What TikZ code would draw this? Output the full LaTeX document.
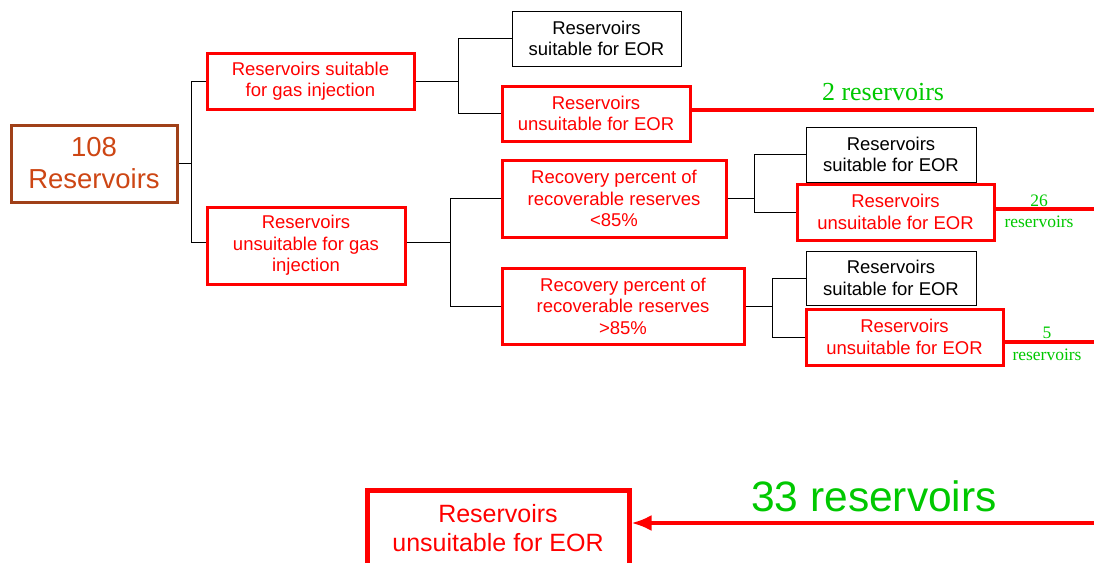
\documentclass[tikz,border=0pt]{standalone}
\usepackage{fontspec}
\setmainfont{Liberation Sans}
\newfontfamily\countfont{Liberation Serif}
\usetikzlibrary{arrows.meta}
\definecolor{myred}{RGB}{255,0,0}
\definecolor{mygreen}{RGB}{0,200,0}
\definecolor{mybrown}{RGB}{160,64,24}
\definecolor{myorange}{RGB}{205,70,20}

\begin{document}
\begin{tikzpicture}[x=1pt, y=-1pt,
  box/.style={align=center, inner sep=0pt, font=\fontsize{18.5}{21.5}\selectfont},
  redbox/.style={box, draw=myred, text=myred, line width=3pt},
  blackbox/.style={box, draw=black, line width=1pt},
  link/.style={black, line width=1pt},
  redlink/.style={myred, line width=3.5pt},
  count/.style={text=mygreen, inner sep=0pt, font=\countfont\fontsize{17.5}{17.5}\selectfont}]

\useasboundingbox (0,0) rectangle (1094,562);
\clip (0,0) rectangle (1094,562);
\coordinate (edge) at (1094,0);

% first split
\node[box, draw=mybrown, text=myorange, line width=3pt, minimum width=166pt, minimum height=77pt,
  font=\fontsize{27.5}{32}\selectfont] (all) at (94,163.5) {108\\Reservoirs};
\node[redbox, minimum width=207pt, minimum height=56pt] (gasok) at (310.5,81) {Reservoirs suitable\\for gas injection};
\node[redbox, minimum width=198pt, minimum height=77pt] (gasno) at (306,245.5) {Reservoirs\\unsuitable for gas\\injection};

% second split
\node[blackbox, minimum width=169pt, minimum height=55pt] (eorok1) at (596.5,38.5) {Reservoirs\\suitable for EOR};
\node[redbox, minimum width=188pt, minimum height=55pt] (eorno1) at (596,113.5) {Reservoirs\\unsuitable for EOR};
\node[redbox, minimum width=224pt, minimum height=77pt] (low) at (614,198.5) {Recovery percent of\\recoverable reserves\\<85\%};
\node[redbox, minimum width=242pt, minimum height=76pt] (high) at (623,306) {Recovery percent of\\recoverable reserves\\>85\%};

% third split
\node[blackbox, minimum width=170pt, minimum height=55pt] (eorok2) at (891,154.5) {Reservoirs\\suitable for EOR};
\node[redbox, minimum width=197pt, minimum height=56pt] (eorno2) at (895.5,212) {Reservoirs\\unsuitable for EOR};
\node[blackbox, minimum width=170pt, minimum height=54pt] (eorok3) at (891,278) {Reservoirs\\suitable for EOR};
\node[redbox, minimum width=197pt, minimum height=56pt] (eorno3) at (904.5,337) {Reservoirs\\unsuitable for EOR};

\node[redbox, line width=5pt, minimum width=262pt, minimum height=76pt,
  font=\fontsize{25}{28.5}\selectfont] (final) at (498,528) {Reservoirs\\unsuitable for EOR};

% tree links
\draw[link] (all.east) -- ++(13,0) coordinate (f0) |- (gasok.west);
\draw[link] (f0) |- ([yshift=3pt]gasno.west);
\draw[link] (gasok.east) -- ++(43,0) coordinate (f1) |- (eorok1.west);
\draw[link] (f1) |- (eorno1.west);
\draw[link] ([yshift=3pt]gasno.east) -- ++(44,0) coordinate (f2) |- (low.west);
\draw[link] (f2) |- (high.west);
\draw[link] (low.east) -- ++(27,0) coordinate (f3) |- (eorok2.west);
\draw[link] (f3) |- (eorno2.west);
\draw[link] (high.east) -- ++(27,0) coordinate (f4) |- (eorok3.west);
\draw[link] (f4) |- (eorno3.west);

% counts going out
\draw[redlink] ([yshift=3.5pt]eorno1.east) -- ([yshift=3.5pt]eorno1.east -| edge);
\node[count, font=\countfont\fontsize{26}{26}\selectfont] (n2) at (883,92) {2 reservoirs};
\draw[redlink] ([yshift=3pt]eorno2.east) -- ([yshift=3pt]eorno2.east -| edge);
\node[count] (n26) at (1039,201) {26};
\node[count] (n26r) at (1039,222) {reservoirs};
\draw[redlink] ([yshift=-5pt]eorno3.east) -- ([yshift=-5pt]eorno3.east -| edge);
\node[count] (n5) at (1047,333) {5};
\node[count] (n5r) at (1047,355) {reservoirs};

% total coming back
\coordinate (in33) at (1094,523);
\draw[redlink, -{Latex[length=20pt,width=16pt]}] (in33) -- (in33 -| final.east);
\node[text=mygreen, inner sep=0pt, font=\fontsize{42.5}{42.5}\selectfont] (n33) at (874,496) {33 reservoirs};

\end{tikzpicture}
\end{document}
